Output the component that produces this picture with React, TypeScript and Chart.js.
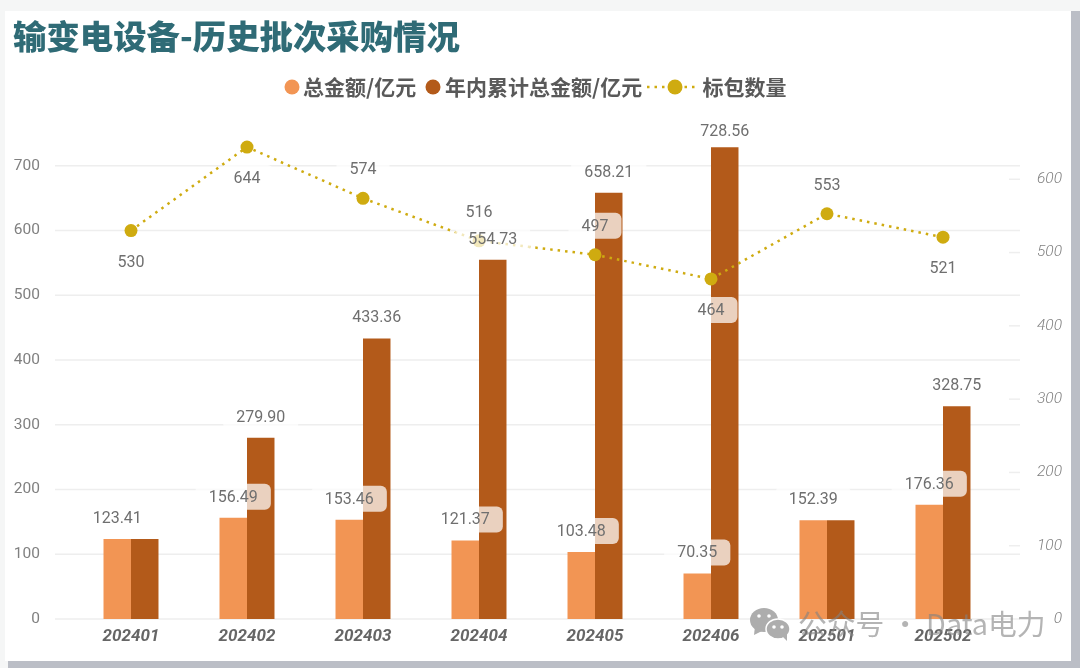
import { useEffect, useRef } from 'react';
import { Chart, registerables } from 'chart.js';

Chart.register(...registerables);

const titleText = '输变电设备-历史批次采购情况';
const watermarkText = '公众号 · Data电力';
const categories = ['202401', '202402', '202403', '202404', '202405', '202406', '202501', '202502'];
const totalAmount = [123.41, 156.49, 153.46, 121.37, 103.48, 70.35, 152.39, 176.36];
const cumulativeAmount = [123.41, 279.9, 433.36, 554.73, 658.21, 728.56, 152.39, 328.75];
const packageCount = [530, 644, 574, 516, 497, 464, 553, 521];
const seriesNames = ['总金额/亿元', '年内累计总金额/亿元', '标包数量'];
const rightTicks = [0, 100, 200, 300, 400, 500, 600];

// the reference leaves these out or puts them under the point
const noCumulativeLabel = ['202401', '202501'];
const countLabelBelow = ['202401', '202402', '202406', '202502'];

const ORANGE = '#F29554';
const BROWN = '#B35A1A';
const GOLD = '#CFAB10';
const FONT = 'Roboto, "Noto Sans CJK SC", sans-serif';
const CJK = '"Noto Sans CJK SC", sans-serif';

const drawPill = (ctx: CanvasRenderingContext2D, text: string, x: number, y: number) => {
  ctx.font = `16px ${FONT}`;
  ctx.textAlign = 'center';
  ctx.textBaseline = 'middle';
  const w = ctx.measureText(text).width + 26;
  ctx.fillStyle = 'rgba(255,255,255,0.72)';
  ctx.beginPath();
  ctx.roundRect(x - w / 2, y - 13, w, 26, 6);
  ctx.fill();
  ctx.fillStyle = '#6F6F6F';
  ctx.fillText(text, x, y + 1);
};

const extraGrid = {
  id: 'extraGrid',
  beforeDatasetsDraw(chart: any) {
    const { ctx, chartArea, scales } = chart;
    ctx.save();
    ctx.strokeStyle = '#EEEEEE';
    ctx.lineWidth = 1.5;
    scales.y.ticks.forEach((t: any) => {
      if (t.value > 700) return;
      const y = scales.y.getPixelForValue(t.value);
      ctx.beginPath();
      ctx.moveTo(chartArea.left - 18, y);
      ctx.lineTo(chartArea.right + 19, y);
      ctx.stroke();
    });
    scales.y2.ticks.forEach((t: any) => {
      if (t.value === 0) return;
      const y = scales.y2.getPixelForValue(t.value);
      ctx.beginPath();
      ctx.moveTo(chartArea.right + 8, y);
      ctx.lineTo(chartArea.right + 19, y);
      ctx.stroke();
    });
    ctx.restore();
  },
};

const valueLabels = {
  id: 'valueLabels',
  afterDatasetsDraw(chart: any) {
    const { ctx, chartArea } = chart;
    // labels stop at the top of the plot, that is why 728.56 sits closer to its bar
    const barLabelY = (y: number) => Math.max(chartArea.top + 30, y - 21);
    ctx.save();
    chart.getDatasetMeta(0).data.forEach((el: any, i: number) => {
      drawPill(ctx, totalAmount[i].toFixed(2), el.x, barLabelY(el.y));
    });
    chart.getDatasetMeta(1).data.forEach((el: any, i: number) => {
      if (noCumulativeLabel.includes(categories[i])) return;
      drawPill(ctx, cumulativeAmount[i].toFixed(2), el.x, barLabelY(el.y));
    });
    chart.getDatasetMeta(2).data.forEach((el: any, i: number) => {
      const below = countLabelBelow.includes(categories[i]);
      drawPill(ctx, String(packageCount[i]), el.x, el.y + (below ? 31 : -29));
    });
    ctx.restore();
  },
};

const customLegend = {
  id: 'customLegend',
  afterDraw(chart: any) {
    const { ctx } = chart;
    const y = 87;
    ctx.save();
    ctx.font = `bold 21px ${CJK}`;
    ctx.textAlign = 'left';
    ctx.textBaseline = 'middle';
    ctx.fillStyle = ORANGE;
    ctx.beginPath();
    ctx.arc(292, y, 7.5, 0, Math.PI * 2);
    ctx.fill();
    ctx.fillStyle = BROWN;
    ctx.beginPath();
    ctx.arc(433, y, 7.5, 0, Math.PI * 2);
    ctx.fill();
    ctx.strokeStyle = GOLD;
    ctx.lineWidth = 2.5;
    ctx.setLineDash([2.5, 5]);
    ctx.beginPath();
    ctx.moveTo(647, y);
    ctx.lineTo(699, y);
    ctx.stroke();
    ctx.setLineDash([]);
    ctx.fillStyle = GOLD;
    ctx.beginPath();
    ctx.arc(675, y, 7.5, 0, Math.PI * 2);
    ctx.fill();
    ctx.fillStyle = '#595959';
    ctx.fillText(seriesNames[0], 303, y);
    ctx.fillText(seriesNames[1], 445, y);
    ctx.fillText(seriesNames[2], 702.5, y);
    ctx.restore();
  },
};

const watermark = {
  id: 'watermark',
  afterDraw(chart: any) {
    const { ctx } = chart;
    ctx.save();
    ctx.fillStyle = '#ADADAD';
    ctx.beginPath();
    ctx.ellipse(764, 620, 14, 12, 0, 0, Math.PI * 2);
    ctx.fill();
    ctx.beginPath();
    ctx.moveTo(755, 626);
    ctx.lineTo(754, 635);
    ctx.lineTo(764, 630);
    ctx.fill();
    ctx.strokeStyle = '#FFFFFF';
    ctx.lineWidth = 1.5;
    ctx.beginPath();
    ctx.ellipse(778, 629, 12, 10, 0, 0, Math.PI * 2);
    ctx.fill();
    ctx.stroke();
    ctx.beginPath();
    ctx.moveTo(782, 636);
    ctx.lineTo(787, 641);
    ctx.lineTo(787, 633);
    ctx.fill();
    ctx.fillStyle = '#FFFFFF';
    [[759, 616], [769, 616], [774, 627], [782, 627]].forEach(([x, y]) => {
      ctx.beginPath();
      ctx.arc(x, y, 1.8, 0, Math.PI * 2);
      ctx.fill();
    });
    ctx.fillStyle = 'rgba(130,130,130,0.6)';
    ctx.font = `28.8px "Noto Sans CJK SC", sans-serif`;
    ctx.textAlign = 'left';
    ctx.textBaseline = 'middle';
    ctx.fillText(watermarkText, 798, 624);
    ctx.restore();
  },
};

export default function App() {
  const canvasRef = useRef<HTMLCanvasElement>(null);

  useEffect(() => {
    document.body.style.margin = '0';
    if (!canvasRef.current) return;
    const chart = new Chart(canvasRef.current, {
      type: 'bar',
      data: {
        labels: categories,
        datasets: [
          {
            label: seriesNames[0],
            data: totalAmount,
            backgroundColor: ORANGE,
            categoryPercentage: 0.474,
            barPercentage: 1,
            order: 1,
          },
          {
            label: seriesNames[1],
            data: cumulativeAmount,
            backgroundColor: BROWN,
            categoryPercentage: 0.474,
            barPercentage: 1,
            order: 1,
          },
          {
            type: 'line',
            label: seriesNames[2],
            data: packageCount,
            yAxisID: 'y2',
            borderColor: GOLD,
            borderWidth: 2.5,
            borderDash: [2.5, 5],
            pointBackgroundColor: GOLD,
            pointBorderWidth: 0,
            pointRadius: 6.5,
            tension: 0,
            order: 0,
          },
        ] as any,
      },
      options: {
        responsive: false,
        animation: false,
        layout: { padding: { left: 13, right: 18, top: 0, bottom: 0 } },
        plugins: {
          legend: { display: false },
          tooltip: { enabled: false },
          title: {
            display: true,
            text: titleText,
            align: 'start',
            color: '#2F6B76',
            font: { family: CJK, size: 33.4, weight: '900' },
            padding: { top: 16, bottom: 45 },
          },
        },
        scales: {
          x: {
            grid: { display: false },
            border: { display: false },
            ticks: {
              color: '#666666',
              font: { family: FONT, size: 17, style: 'italic', weight: 'bold' },
              padding: 0,
              maxRotation: 0,
            },
            afterFit(s: any) {
              s.height = 49;
            },
          },
          y: {
            min: 0,
            max: 800,
            grid: { display: false },
            border: { display: false },
            ticks: {
              stepSize: 100,
              autoSkip: false,
              color: '#808080',
              font: { family: FONT, size: 15.5 },
              padding: 25,
              callback: (v: any) => (v > 700 ? '' : v),
            },
            afterFit(s: any) {
              s.width = 60;
            },
          },
          y2: {
            position: 'right',
            min: 0,
            max: 706.7,
            grid: { display: false },
            border: { display: false },
            ticks: {
              autoSkip: false,
              color: '#808080',
              font: { family: FONT, size: 15.5, style: 'italic', weight: '300' },
              crossAlign: 'far',
            },
            afterBuildTicks(s: any) {
              s.ticks = rightTicks.map((value) => ({ value }));
            },
            afterFit(s: any) {
              s.width = 61;
            },
          },
        },
      } as any,
      plugins: [extraGrid, valueLabels, customLegend, watermark],
    });
    return () => chart.destroy();
  }, []);

  return (
    <div style={{ position: 'relative', width: 1080, height: 668, background: '#F5F6F6', overflow: 'hidden' }}>
      <div style={{ position: 'absolute', left: 1071, top: 11, width: 9, height: 657, background: '#BBBEC6' }} />
      <div style={{ position: 'absolute', left: 8, top: 661, width: 1072, height: 7, background: '#BBBEC6' }} />
      <div style={{ position: 'absolute', left: 5, top: 11, width: 1066, height: 650, background: '#FFFFFF' }} />
      <canvas ref={canvasRef} width={1080} height={668} style={{ position: 'absolute', left: 0, top: 0 }} />
    </div>
  );
}
